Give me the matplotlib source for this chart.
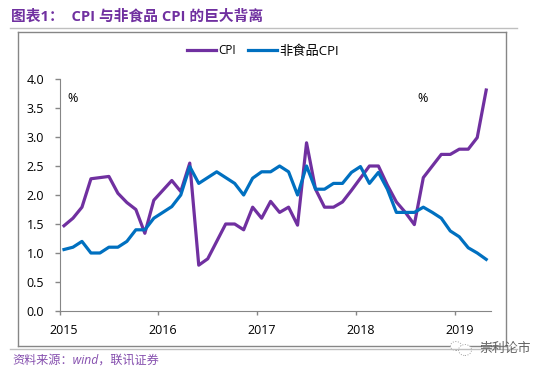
import matplotlib
matplotlib.use('Agg')
import matplotlib.pyplot as plt
from matplotlib.lines import Line2D
from matplotlib.patches import Ellipse

W, H = 548, 373
PURPLE = '#7030A0'
BLUE = '#0070C0'
GRAY = '#868686'

cpi = [1.47, 1.6, 1.79, 2.28, 2.3, 2.32, 2.03, 1.87, 1.75, 1.34, 1.91, 2.08,
       2.25, 2.06, 2.55, 0.79, 0.9, 1.2, 1.5, 1.5, 1.4, 1.79, 1.6, 1.89,
       1.7, 1.79, 1.48, 2.9, 2.1, 1.79, 1.79, 1.88, 2.08, 2.29, 2.5, 2.5,
       2.17, 1.88, 1.7, 1.49, 2.3, 2.5, 2.7, 2.7, 2.79, 2.79, 2.99, 3.81]
non_food = [1.06, 1.1, 1.2, 1.0, 1.0, 1.1, 1.1, 1.2, 1.4, 1.4, 1.6, 1.7,
            1.8, 2.0, 2.49, 2.2, 2.3, 2.4, 2.3, 2.2, 2.0, 2.29, 2.4, 2.4,
            2.5, 2.4, 2.0, 2.5, 2.1, 2.1, 2.2, 2.2, 2.39, 2.49, 2.2, 2.39,
            2.1, 1.7, 1.7, 1.7, 1.79, 1.7, 1.6, 1.38, 1.28, 1.09, 1.0, 0.89]
year_labels = ['2015', '2016', '2017', '2018', '2019']
year_pos = [0, 11, 22, 33, 44]
y_ticks = [0.0, 0.5, 1.0, 1.5, 2.0, 2.5, 3.0, 3.5, 4.0]

plt.rcParams['font.family'] = ['Open Sans', 'Noto Sans CJK SC', 'DejaVu Sans']

fig = plt.figure(figsize=(W / 100, H / 100), dpi=100)


def fx(px):
    return px / W


def fy(py):
    return 1 - py / H


# frame round the chart is an empty axes behind the real one
frame = fig.add_axes([fx(17.5), fy(346.3), fx(506) - fx(17.5), fy(31.5) - fy(346.3)], zorder=0)
frame.set_xticks([])
frame.set_yticks([])
for s in frame.spines.values():
    s.set_color(GRAY)
    s.set_linewidth(1)

fig.add_artist(Line2D([fx(10), fx(517)], [fy(27.7), fy(27.7)], color='#BFBFBF', lw=1))
fig.add_artist(Line2D([fx(10), fx(517)], [fy(349.3), fy(349.3)], color='#BFBFBF', lw=1))

ax = fig.add_axes([fx(59.5), fy(311), fx(490.7) - fx(59.5), fy(79) - fy(311)], zorder=1)
x = list(range(len(cpi)))
ax.plot(x, cpi, color=PURPLE, lw=2.3, label='CPI')
ax.plot(x, non_food, color=BLUE, lw=2.3, label='非食品CPI')
ax.set_xlim(-0.5, 47.5)
ax.set_ylim(0, 4)

ax.set_yticks(y_ticks)
ax.set_yticklabels(['%.1f' % v for v in y_ticks])
ax.set_xticks([p - 0.5 for p in year_pos])
ax.set_xticklabels([])
ax.set_xticks(year_pos, minor=True)
ax.set_xticklabels(year_labels, minor=True)
ax.tick_params(axis='y', length=3.6, width=1, color=GRAY, labelsize=9, pad=7.5)
ax.tick_params(axis='x', which='major', length=3, width=1, color=GRAY)
ax.tick_params(axis='x', which='minor', length=0, labelsize=9, pad=9)
for s in ['top', 'right']:
    ax.spines[s].set_visible(False)
for s in ['left', 'bottom']:
    ax.spines[s].set_color(GRAY)

leg = ax.legend(loc='center', bbox_to_anchor=((263 - 59.5) / 431.2, (311 - 51) / 232), ncol=2,
                frameon=False, fontsize=8.5, handlelength=2.45, handletextpad=0.2, columnspacing=1.05)
leg.get_texts()[1].set_fontsize(9.5)

fig.text(fx(73), fy(98), '%', fontsize=9, ha='center', va='center')
fig.text(fx(423), fy(99), '%', fontsize=9, ha='center', va='center')

fig.text(fx(11), fy(16), '图表1：  CPI 与非食品 CPI 的巨大背离', color=PURPLE, fontsize=10.6,
         fontweight='bold', ha='left', va='center')
fig.text(fx(12), fy(360), '资料来源：wind，联讯证券', color=PURPLE, fontsize=8.7, style='italic',
         ha='left', va='center', alpha=0.85)

# watermark in the lower right corner
fig.add_artist(Ellipse((fx(456), fy(346)), 11 / W, 9 / H, fc='white', ec='#A0A0A0', lw=0.7,
                       ls=':', transform=fig.transFigure))
fig.add_artist(Ellipse((fx(465), fy(350)), 13 / W, 11 / H, fc='white', ec='#A0A0A0', lw=0.7,
                       ls=':', transform=fig.transFigure))
fig.text(fx(479), fy(348), '崇利论市', color='#606060', fontsize=9.3, ha='left', va='center')

fig.savefig('out.png', dpi=100)
